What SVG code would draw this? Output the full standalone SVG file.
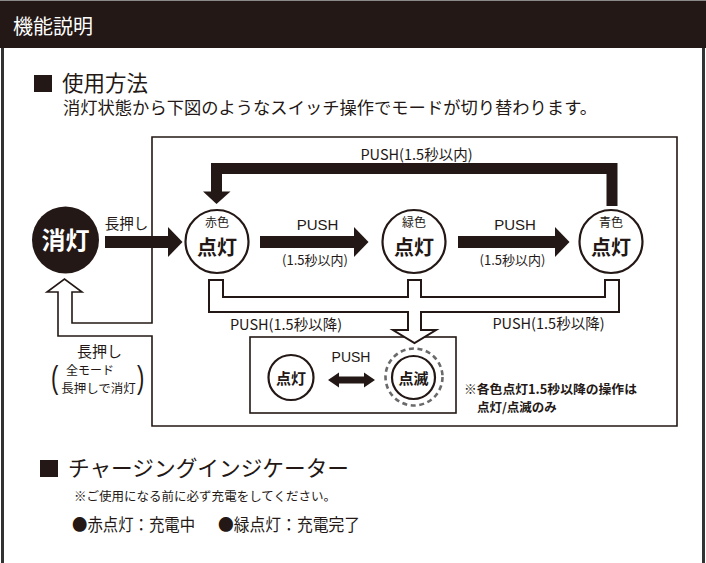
<svg xmlns="http://www.w3.org/2000/svg" width="706" height="563" viewBox="0 0 706 563">
<style>
text{font-family:"Noto Sans CJK JP","Noto Sans",sans-serif;fill:#231815;font-weight:400}
.lat{font-family:"Liberation Sans","Noto Sans CJK JP",sans-serif;font-weight:400}
.b{font-weight:700}
.ln{fill:none;stroke:#231815;stroke-width:1.6}
.circ{fill:#fff;stroke:#231815;stroke-width:2.2}
.blk{fill:#231815}
.mid{text-anchor:middle}
</style>
<rect x="0" y="0" width="706" height="563" fill="#fff"/>
<g id="header">
<rect x="0" y="0" width="706" height="48" fill="#231815"/>
<rect x="0" y="0" width="706" height="1" fill="#8a8a8a"/>
<text x="13" y="34" font-size="20" style="fill:#fff">機能説明</text>
</g>
<g id="frame">
<rect x="1" y="48" width="3" height="515" fill="#333"/>
<rect x="702" y="48" width="3" height="515" fill="#333"/>
</g>
<g id="section-usage">
<rect x="34" y="75" width="18" height="17" class="blk"/>
<text x="62" y="91" font-size="21.5">使用方法</text>
<text x="63" y="114" font-size="17" textLength="534" lengthAdjust="spacingAndGlyphs">消灯状態から下図のようなスイッチ操作でモードが切り替わります。</text>
</g>
<g id="connectors">
<path class="ln" d="M152,323 L152,137 L677,137 L677,426 L152,426 L152,336 L58,336 L58,292 L47,292 L64.5,279 L82,292 L72,292 L72,323 Z"/>
<rect id="flash-box" x="250" y="337" width="206" height="76" class="ln"/>
<path d="M209,280 L223,280 L223,297 L408,297 L408,280 L421,280 L421,297 L605,297 L605,280 L619,280 L619,312 L421,312 L421,330 L436,330 L414.5,343 L393,330 L408,330 L408,312 L209,312 Z" fill="#fff" stroke="#231815" stroke-width="2"/>
<rect x="105" y="236" width="64" height="12" class="blk"/>
<polygon points="168,227 182.5,242 168,257" class="blk"/>
<rect x="260" y="236" width="95" height="12" class="blk"/>
<polygon points="354,227 368.5,242 354,257" class="blk"/>
<rect x="458" y="236" width="98" height="12" class="blk"/>
<polygon points="555,227 569.5,242 555,257" class="blk"/>
<path d="M612,206 L612,168.5 L216.5,168.5 L216.5,193" fill="none" stroke="#231815" stroke-width="11" stroke-linejoin="miter"/>
<polygon points="203,191.5 230.5,191.5 216.5,204" class="blk"/>
<polygon points="328,380 339,372.5 339,376.5 364,376.5 364,372.5 375,380 364,387.5 364,383.5 339,383.5 339,387.5" class="blk"/>
<text x="126.5" y="229" font-size="14.5" class="mid">長押し</text>
<text x="317.5" y="230" font-size="15" class="lat mid">PUSH</text>
<text x="315" y="265" font-size="13" class="mid">(1.5秒以内)</text>
<text x="515" y="230" font-size="15" class="lat mid">PUSH</text>
<text x="512.5" y="265" font-size="13" class="mid">(1.5秒以内)</text>
<text x="416.5" y="160" font-size="14.5" class="mid">PUSH(1.5秒以内)</text>
<text x="286" y="330" font-size="14.5" class="mid">PUSH(1.5秒以降)</text>
<text x="548.5" y="329" font-size="14.5" class="mid">PUSH(1.5秒以降)</text>
<text x="351" y="362" font-size="14" class="lat mid">PUSH</text>
<text x="99.5" y="357" font-size="15" class="mid">長押し</text>
<text x="90" y="374.5" font-size="12" class="mid">全モード</text>
<text x="98.5" y="393" font-size="12.5" class="mid">長押しで消灯</text>
<text transform="translate(51,388) scale(1,1.4)" font-size="22" class="lat">(</text>
<text transform="translate(137,388) scale(1,1.4)" font-size="22" class="lat">)</text>
</g>
<g id="node-off">
<circle cx="65.5" cy="240" r="33.5" class="blk"/>
<text x="65.5" y="249" font-size="24" class="b mid" style="fill:#fff">消灯</text>
</g>
<g id="node-red">
<circle cx="217" cy="241.5" r="31.5" class="circ"/>
<text x="217" y="227" font-size="12" class="mid">赤色</text>
<text x="217" y="255" font-size="20" class="b mid">点灯</text>
</g>
<g id="node-green">
<circle cx="414" cy="241.5" r="31.5" class="circ"/>
<text x="414" y="227" font-size="12" class="mid">緑色</text>
<text x="414" y="255" font-size="20" class="b mid">点灯</text>
</g>
<g id="node-blue">
<circle cx="611" cy="241.5" r="31.5" class="circ"/>
<text x="611" y="227" font-size="12" class="mid">青色</text>
<text x="611" y="255" font-size="20" class="b mid">点灯</text>
</g>
<g id="node-steady">
<circle cx="291" cy="377.5" r="22.5" class="circ"/>
<text x="291" y="384" font-size="15" class="b mid">点灯</text>
</g>
<g id="node-blink">
<circle cx="414" cy="377" r="28.5" fill="none" stroke="#6a6a6a" stroke-width="2.6" stroke-dasharray="5 3.6"/>
<circle cx="413.5" cy="377.5" r="21.5" class="circ"/>
<text x="413.5" y="384" font-size="15" class="b mid">点滅</text>
</g>
<g id="note">
<text x="464" y="394" font-size="12.5" class="b" textLength="173" lengthAdjust="spacingAndGlyphs">※各色点灯1.5秒以降の操作は</text>
<text x="477" y="412" font-size="12.5" class="b">点灯/点滅のみ</text>
</g>
<g id="section-charging">
<rect x="40" y="460" width="18" height="17" class="blk"/>
<text x="68" y="476" font-size="21.5" textLength="281" lengthAdjust="spacingAndGlyphs">チャージングインジケーター</text>
<text x="74" y="501" font-size="12.5" textLength="262" lengthAdjust="spacingAndGlyphs">※ご使用になる前に必ず充電をしてください。</text>
<text x="72" y="531" font-size="16.5" textLength="123" lengthAdjust="spacingAndGlyphs">●赤点灯：充電中</text>
<text x="218" y="531" font-size="16.5" textLength="142" lengthAdjust="spacingAndGlyphs">●緑点灯：充電完了</text>
</g>
</svg>
